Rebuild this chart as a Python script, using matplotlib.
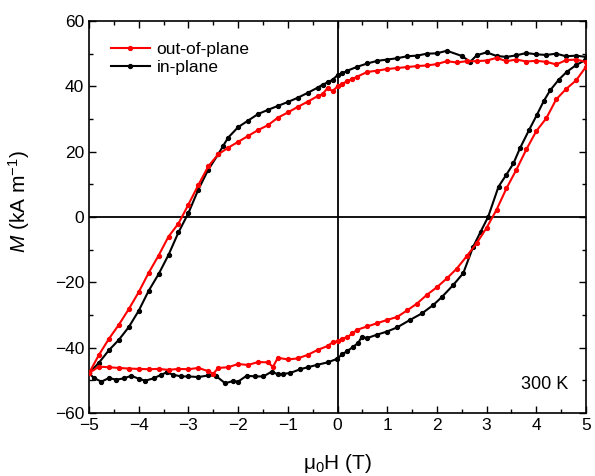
import matplotlib
matplotlib.use("Agg")
import matplotlib.pyplot as plt
from matplotlib.ticker import MultipleLocator

plt.rcParams['font.family'] = ['Liberation Sans', 'DejaVu Sans']
plt.rcParams['mathtext.fontset'] = 'custom'
plt.rcParams['mathtext.rm'] = 'Liberation Sans'
plt.rcParams['mathtext.it'] = 'Liberation Sans:italic'

# out-of-plane loop: upper branch (5 -> -5), then lower branch (-5 -> 5)
oop_up_h = [5.0, 4.8, 4.6, 4.4, 4.2, 4.0, 3.8, 3.6, 3.4, 3.2, 3.0, 2.8, 2.6, 2.4, 2.2, 2.0,
            1.8, 1.6, 1.4, 1.2, 1.0, 0.8, 0.6, 0.4, 0.3, 0.2, 0.1, 0.0, -0.1, -0.2, -0.3,
            -0.4, -0.6, -0.8, -1.0, -1.2, -1.4, -1.6, -1.8, -2.0, -2.2, -2.4, -2.6, -2.8,
            -3.0, -3.2, -3.4, -3.6, -3.8, -4.0, -4.2, -4.4, -4.6, -4.8, -5.0]
oop_up_m = [47.5, 48.2, 48.0, 46.7, 47.5, 47.8, 47.6, 48.2, 47.7, 48.7, 47.9, 47.7, 47.7,
            47.3, 47.7, 46.8, 46.4, 46.2, 45.9, 45.6, 45.3, 44.8, 44.4, 43.0, 42.2, 41.6,
            40.8, 40.0, 38.5, 39.5, 37.6, 37.0, 35.3, 33.7, 32.0, 30.4, 28.1, 26.6, 24.8,
            23.0, 21.2, 19.2, 15.5, 9.8, 3.8, -2.0, -6.0, -11.8, -17.1, -23.0, -28.2,
            -33.0, -37.3, -42.2, -47.8]
oop_dn_h = [-5.0, -4.8, -4.6, -4.4, -4.2, -4.0, -3.8, -3.6, -3.4, -3.2, -3.0, -2.8, -2.6,
            -2.5, -2.4, -2.2, -2.0, -1.8, -1.6, -1.4, -1.3, -1.2, -1.0, -0.8, -0.6, -0.4,
            -0.2, -0.1, 0.0, 0.1, 0.2, 0.3, 0.4, 0.6, 0.8, 1.0, 1.2, 1.4, 1.6, 1.8, 2.0,
            2.2, 2.4, 2.6, 2.8, 3.0, 3.2, 3.4, 3.6, 3.8, 4.0, 4.2, 4.4, 4.6, 4.8, 5.0]
oop_dn_m = [-47.8, -45.8, -46.0, -46.2, -46.4, -46.5, -46.6, -46.5, -46.8, -46.5, -46.6,
            -46.2, -47.2, -48.0, -46.2, -46.0, -45.0, -45.3, -44.4, -44.5, -45.9, -43.1,
            -43.6, -43.3, -42.2, -40.7, -39.5, -38.4, -38.0, -37.2, -36.8, -35.6, -34.5,
            -33.5, -32.5, -31.5, -30.6, -28.6, -26.5, -23.8, -21.5, -18.8, -15.8, -12.0,
            -8.0, -3.3, 2.2, 8.8, 14.5, 20.7, 26.3, 30.2, 36.0, 39.2, 41.8, 46.0]

# in-plane loop
ip_up_h = [5.0, 4.8, 4.6, 4.4, 4.2, 4.0, 3.8, 3.6, 3.4, 3.2, 3.0, 2.8, 2.67, 2.5, 2.2, 2.0,
           1.8, 1.6, 1.4, 1.2, 1.0, 0.8, 0.6, 0.4, 0.2, 0.1, 0.0, -0.1, -0.2, -0.3, -0.4,
           -0.6, -0.8, -1.0, -1.2, -1.4, -1.6, -1.8, -2.0, -2.2, -2.3, -2.4, -2.6, -2.8,
           -3.0, -3.2, -3.4, -3.6, -3.8, -4.0, -4.2, -4.4, -4.6, -4.8, -5.0]
ip_up_m = [49.0, 49.4, 49.2, 50.0, 49.6, 49.8, 50.2, 49.5, 49.0, 49.3, 50.4, 49.5, 47.5,
           49.3, 50.9, 50.1, 50.0, 49.4, 49.2, 48.6, 48.2, 47.8, 47.0, 46.0, 44.8, 44.0,
           43.4, 42.0, 41.2, 40.5, 39.6, 38.0, 36.5, 35.2, 34.0, 32.8, 31.5, 29.5, 27.5,
           24.3, 21.8, 19.2, 14.5, 8.4, 1.2, -4.7, -11.6, -17.5, -22.6, -28.7, -33.7,
           -37.6, -40.8, -44.6, -47.8]
ip_dn_h = [-5.0, -4.9, -4.75, -4.6, -4.45, -4.3, -4.15, -4.0, -3.87, -3.7, -3.55, -3.44,
           -3.3, -3.15, -3.0, -2.8, -2.6, -2.45, -2.26, -2.1, -2.0, -1.83, -1.65, -1.49,
           -1.32, -1.2, -1.1, -0.96, -0.75, -0.6, -0.42, -0.2, -0.02, 0.1, 0.2, 0.32, 0.42,
           0.49, 0.59, 0.8, 0.99, 1.2, 1.46, 1.7, 1.93, 2.1, 2.33, 2.53, 2.73, 2.88, 3.03,
           3.24, 3.4, 3.54, 3.67, 3.85, 4.01, 4.15, 4.28, 4.45, 4.61, 4.8, 4.98]
ip_dn_m = [-47.8, -49.3, -50.4, -49.3, -49.8, -49.4, -48.6, -49.5, -50.1, -49.4, -48.3,
           -47.6, -48.3, -48.8, -48.8, -49.0, -48.5, -48.6, -50.9, -50.2, -50.4, -48.6,
           -48.8, -48.8, -47.3, -48.2, -48.0, -47.8, -46.6, -46.0, -45.3, -44.5, -43.5,
           -42.0, -41.0, -39.7, -38.5, -36.6, -37.1, -36.0, -35.1, -33.8, -31.5, -29.5,
           -26.9, -24.5, -20.8, -17.2, -9.1, -4.5, 0.0, 9.3, 13.0, 16.4, 21.0, 26.5, 31.2,
           35.5, 38.8, 42.0, 44.4, 46.5, 48.0]

fig = plt.figure(figsize=(5.95, 4.76), dpi=100)
ax = fig.add_axes([89 / 595, 1 - 413 / 476, 497 / 595, 392 / 476])

ax.axhline(0, color='black', lw=1.3, zorder=1)
ax.axvline(0, color='black', lw=1.3, zorder=1)

ax.plot(oop_up_h + oop_dn_h, oop_up_m + oop_dn_m, '-o', color='red', lw=1.5,
        ms=2.8, label='out-of-plane', zorder=3)
ax.plot(ip_up_h + ip_dn_h, ip_up_m + ip_dn_m, '-o', color='black', lw=1.5,
        ms=2.8, label='in-plane', zorder=2)

ax.set_xlim(-5, 5)
ax.set_ylim(-60, 60)
ax.xaxis.set_major_locator(MultipleLocator(1))
ax.xaxis.set_minor_locator(MultipleLocator(0.5))
ax.yaxis.set_major_locator(MultipleLocator(20))
ax.yaxis.set_minor_locator(MultipleLocator(10))
ax.tick_params(which='both', direction='in', top=True, right=True, labelsize=12.5)
ax.tick_params(which='major', length=5, width=1)
ax.tick_params(which='minor', length=3, width=1)
for s in ax.spines.values():
    s.set_linewidth(1.2)

ax.set_xlabel(r'μ$_\mathregular{0}$H (T)', fontsize=15, labelpad=14)
ax.set_ylabel(r'$M$ (kA m$^{-1}$)', fontsize=15, labelpad=9)
ax.yaxis.set_label_coords(-0.115, 0.538)

ax.legend(loc='upper left', frameon=False, fontsize=12.5, handlelength=2.2,
          handletextpad=0.4, labelspacing=0.15, borderaxespad=0.6,
          bbox_to_anchor=(0.01, 0.99), markerscale=1.0)
ax.text(0.965, 0.05, '300 K', transform=ax.transAxes, ha='right', va='bottom',
        fontsize=13)

fig.savefig('out.png', dpi=100)
